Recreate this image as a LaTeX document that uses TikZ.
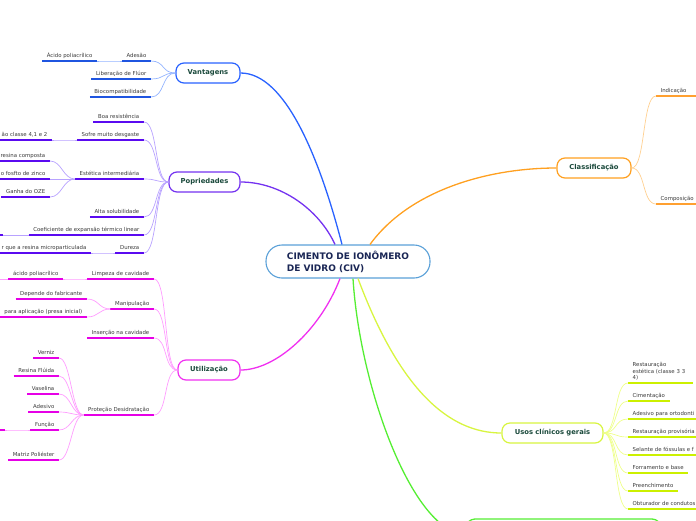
\documentclass[tikz,border=0pt]{standalone}
\usepackage{fontspec}
\setmainfont{DejaVu Sans}
\definecolor{cblue}{HTML}{2962FF}
\definecolor{ublue}{HTML}{1F55E0}
\definecolor{lblue}{HTML}{94B4FF}
\definecolor{cpurple}{HTML}{7432F0}
\definecolor{upurple}{HTML}{5A0AF0}
\definecolor{lpurple}{HTML}{B8A2FF}
\definecolor{cmag}{HTML}{F030F0}
\definecolor{umag}{HTML}{E600E6}
\definecolor{lmag}{HTML}{FF9CFF}
\definecolor{corange}{HTML}{FFA020}
\definecolor{uorange}{HTML}{FFA030}
\definecolor{lorange}{HTML}{FFD090}
\definecolor{cyellow}{HTML}{D8F540}
\definecolor{uyellow}{HTML}{CCF000}
\definecolor{lyellow}{HTML}{EEFF8A}
\definecolor{cgreen}{HTML}{55EE33}
\definecolor{cborder}{HTML}{5AA0D8}
\definecolor{nodetext}{HTML}{1B4A3C}
\definecolor{navytext}{HTML}{1A2655}
\definecolor{leaftext}{HTML}{3A3A3A}
\tikzset{
  mainnode/.style={draw=#1, line width=1.2pt, fill=white, rounded corners=8pt,
    minimum height=20pt, inner sep=0pt, text=nodetext,
    font=\fontsize{6.8}{8}\selectfont\bfseries},
  mainline/.style={draw=#1, line width=1.3pt},
  lconn/.style={draw=#1, line width=0.7pt},
  leafbase/.style={font=\fontsize{5.4}{6.6}\selectfont, text=leaftext,
    inner xsep=4.5pt, inner ysep=2.3pt,
    append after command={(\tikzlastnode.south west) edge[line width=1.8pt, draw=#1] (\tikzlastnode.south east)}},
  leaf/.style={leafbase=#1, text height=4pt, text depth=1.2pt},
  leafL/.style={leaf=#1, anchor=south east},
  leafR/.style={leaf=#1, anchor=south west},
}
\begin{document}
\begin{tikzpicture}[x=1pt,y=-1pt]
\useasboundingbox (0,0) rectangle (696,520);
\clip (0,0) rectangle (696,520);

% central node
\node[draw=cborder, line width=1.1pt, fill=white, rounded corners=16pt,
  minimum width=164pt, minimum height=33pt, inner sep=0pt, align=left,
  text=navytext, font=\fontsize{9}{12}\selectfont\bfseries]
  (c) at (348,261.5) {CIMENTO DE IONÔMERO\\DE VIDRO (CIV)};

% main nodes
\node[mainnode=cblue, minimum width=64pt] (V) at (208,73) {Vantagens};
\node[mainnode=cpurple, minimum width=71pt] (P) at (204.5,182) {Popriedades};
\node[mainnode=cmag, minimum width=62pt] (U) at (209,370) {Utilização};
\node[mainnode=corange, minimum width=74pt] (Cl) at (594,168) {Classificação};
\node[mainnode=cyellow, minimum width=101pt] (G) at (552.5,433) {Usos clínicos gerais};
\node[draw=cgreen, line width=1.3pt, fill=white, rounded corners=9pt,
  minimum width=195pt, minimum height=30pt, inner sep=0pt] (Gr) at (563.5,534) {};

% main connectors
\draw[mainline=cblue] (V.east) .. controls +(45,0) and +(-22,-85) .. ([xshift=-6pt]c.north);
\draw[mainline=cpurple] (P.east) .. controls +(40,0) and +(-16,-35) .. ([xshift=-13pt]c.north);
\draw[mainline=corange] ([xshift=22pt]c.north) .. controls +(40,-55) and +(-67,0) .. (Cl.west);
\draw[mainline=cmag] ([xshift=-8pt]c.south) .. controls +(-20,52) and +(35,0) .. (U.east);
\draw[mainline=cyellow] ([xshift=10pt]c.south) .. controls +(42,112) and +(-52,0) .. (G.west);
\draw[mainline=cgreen] ([xshift=5pt]c.south) .. controls +(7,112) and +(-51,0) .. (Gr.west);

% Vantagens
\node[leafL=ublue] (va) at (151,61) {Adesão};
\node[leafL=ublue] (vaa) at (97,61) {Ácido poliacrílico};
\node[leafL=ublue] (vb) at (151,79) {Liberação de Flúor};
\node[leafL=ublue] (vc) at (151,97) {Biocompatibilidade};
\foreach \n in {va,vb,vc}
  \draw[lconn=lblue] (V.west) .. controls +(-14,0) and +(14,0) .. (\n.south east);
\draw[lconn=lblue] (va.south west) .. controls +(-10,0) and +(10,0) .. (vaa.south east);

% Popriedades
\node[leafL=upurple] (pa) at (144,122) {Boa resistência};
\node[leafL=upurple] (pb) at (144,140) {Sofre muito desgaste};
\node[leafL=upurple] (pba) at (52,140) {ão classe 4,1 e 2};
\node[leafL=upurple] (pc) at (144,179) {Estética intermediária};
\node[leafL=upurple] (pca) at (50,161) {resina composta};
\node[leafL=upurple] (pcb) at (50,179) {o fosfto de zinco};
\node[leafL=upurple] (pcc) at (50,197) {Ganha do OZE};
\node[leafL=upurple] (pd) at (144,217) {Alta solubilidade};
\node[leafL=upurple] (pe) at (144,235) {Coeficiente de expansão térmico linear};
\coordinate (pea) at (3,235);
\coordinate (peb) at (-10,235);
\node[leafL=upurple] (pf) at (144,253) {Dureza};
\node[leafL=upurple] (pfa) at (91,253) {r que a resina microparticulada};
\foreach \n in {pa,pb,pc,pd,pe,pf}
  \draw[lconn=lpurple] (P.west) .. controls +(-14,0) and +(14,0) .. (\n.south east);
\draw[lconn=lpurple] (pb.south west) .. controls +(-10,0) and +(10,0) .. (pba.south east);
\foreach \n in {pca,pcb,pcc}
  \draw[lconn=lpurple] (pc.south west) .. controls +(-12,0) and +(12,0) .. (\n.south east);
\draw[lconn=lpurple] (pe.south west) -- (pea);
\draw[line width=1.8pt, draw=upurple] (peb) -- (pea);
\draw[lconn=lpurple] (pf.south west) .. controls +(-10,0) and +(10,0) .. (pfa.south east);

% Utilização
\node[leafL=umag] (ua) at (154,279) {Limpeza de cavidade};
\node[leafL=umag] (uaa) at (63,279) {ácido poliacrílico};
\coordinate (uax) at (-5,279);
\node[leafL=umag] (ub) at (154,309) {Manipulação};
\node[leafL=umag] (uba) at (87,299) {Depende do fabricante};
\node[leafL=umag] (ubb) at (87,317) {para aplicação (presa inicial)};
\node[leafL=umag] (uc) at (154,338) {Inserção na cavidade};
\node[leafL=umag] (ud) at (154,415) {Proteção Desidratação};
\node[leafL=umag] (ud1) at (59,358) {Verniz};
\node[leafL=umag] (ud2) at (59,376) {Resina Flúida};
\node[leafL=umag] (ud3) at (59,394) {Vaselina};
\node[leafL=umag] (ud4) at (59,412) {Adesivo};
\node[leafL=umag] (ud5) at (59,430) {Função};
\node[leafL=umag] (ud5a) at (5,430) {l};
\node[leafL=umag] (ud6) at (59,460) {Matriz Poliéster};
\foreach \n in {ua,ub,uc,ud}
  \draw[lconn=lmag] (U.west) .. controls +(-14,0) and +(14,0) .. (\n.south east);
\draw[lconn=lmag] (ua.south west) .. controls +(-10,0) and +(10,0) .. (uaa.south east);
\draw[lconn=lmag] (uaa.south west) -- (uax);
\foreach \n in {uba,ubb}
  \draw[lconn=lmag] (ub.south west) .. controls +(-12,0) and +(12,0) .. (\n.south east);
\foreach \n in {ud1,ud2,ud3,ud4,ud5,ud6}
  \draw[lconn=lmag] (ud.south west) .. controls +(-12,0) and +(12,0) .. (\n.south east);
\draw[lconn=lmag] (ud5.south west) .. controls +(-10,0) and +(10,0) .. (ud5a.south east);

% Classificação
\node[leafR=uorange, text width=42pt, align=left] (ca) at (656,96) {Indicação};
\node[leafR=uorange, text width=42pt, align=left] (cb) at (656,204) {Composição};
\foreach \n in {ca,cb}
  \draw[lconn=lorange] (Cl.east) .. controls +(14,0) and +(-14,0) .. (\n.south west);

% Usos clínicos gerais
\node[leafbase=uyellow, anchor=south west, align=left, text width=56pt] (g1) at (628,383) {Restauração\\estética (classe 3 3\\4)};
\node[leafR=uyellow] (g2) at (628,401) {Cimentação};
\node[leafR=uyellow] (g3) at (628,419) {Adesivo para ortodonti};
\node[leafR=uyellow] (g4) at (628,437) {Restauração provisória};
\node[leafR=uyellow] (g5) at (628,455) {Selante de fóssulas e f};
\node[leafR=uyellow] (g6) at (628,473) {Forramento e base};
\node[leafR=uyellow] (g7) at (628,491) {Preenchimento};
\node[leafR=uyellow] (g8) at (628,509) {Obturador de condutos};
\foreach \n in {g1,g2,g3,g4,g5,g6,g7,g8}
  \draw[lconn=lyellow] (G.east) .. controls +(14,0) and +(-14,0) .. (\n.south west);
\end{tikzpicture}
\end{document}
